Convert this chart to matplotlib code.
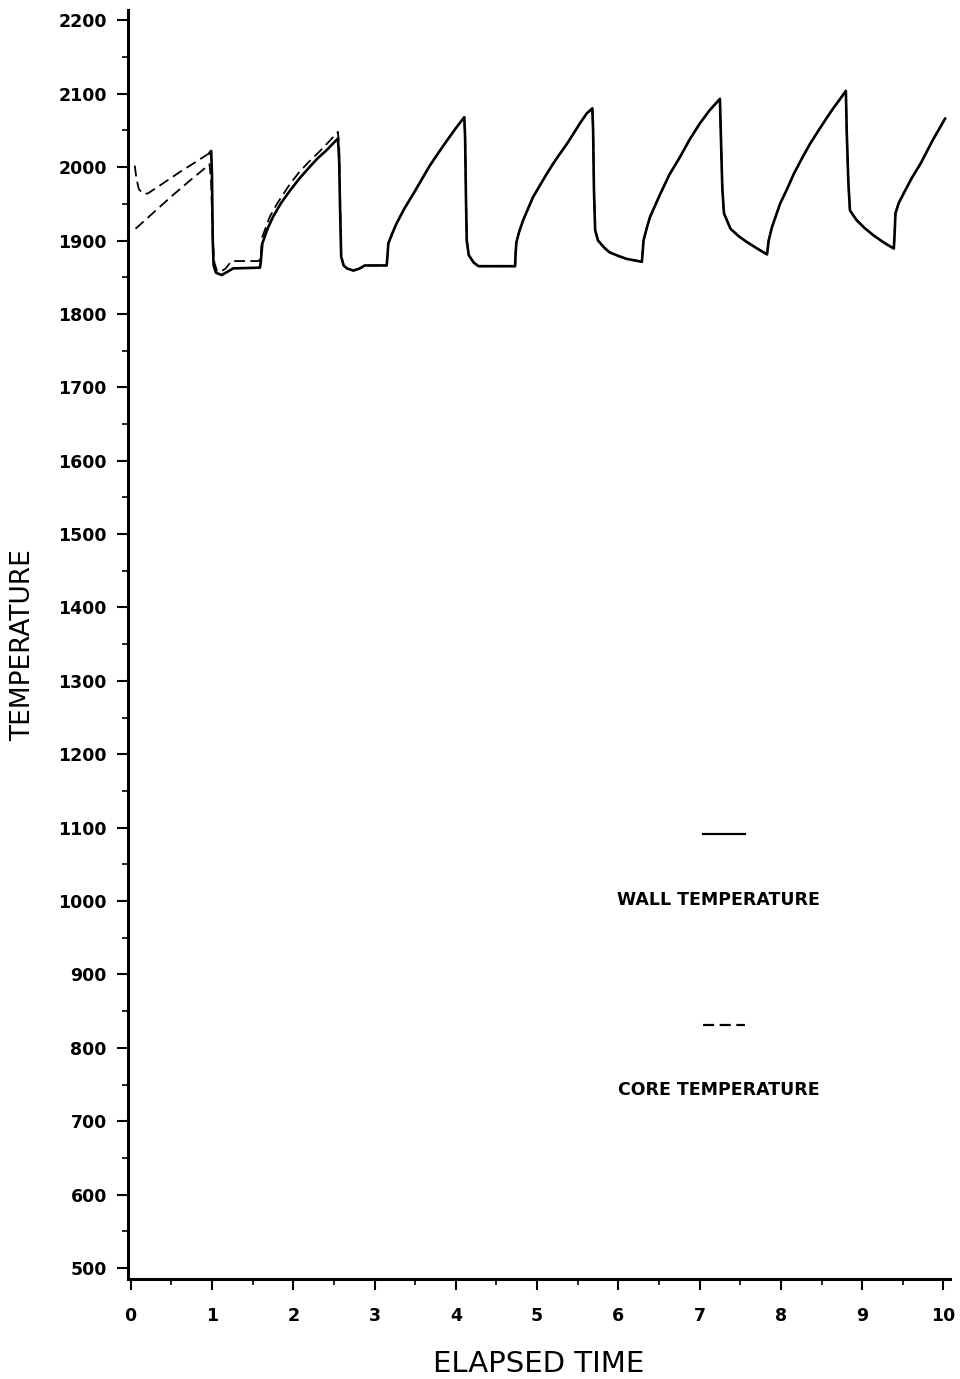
import numpy as np
import matplotlib
matplotlib.use("Agg")
import matplotlib.pyplot as plt
from matplotlib.ticker import MultipleLocator

# ---- data ----
wall_time = [0.05, 0.07, 0.10, 0.15, 0.21, 0.40, 0.60, 0.80, 0.94, 0.97, 0.99,
             1.00, 1.01, 1.02, 1.05, 1.12, 1.20, 1.26, 1.59, 1.60, 1.62, 1.68, 1.75,
             1.85, 1.96, 2.08, 2.20, 2.30, 2.41, 2.48, 2.55, 2.565, 2.575, 2.59, 2.62,
             2.66, 2.74, 2.82, 2.88, 3.15, 3.16, 3.17, 3.22, 3.27, 3.37, 3.48, 3.58,
             3.68, 3.79, 3.89, 4.00, 4.105,
             4.115, 4.125, 4.135, 4.16, 4.22, 4.28, 4.73, 4.735, 4.745, 4.78, 4.83,
             4.95, 5.04, 5.12, 5.20, 5.28, 5.37, 5.45, 5.53, 5.61, 5.68,
             5.69, 5.70, 5.715, 5.75, 5.82, 5.89, 6.00, 6.10, 6.29, 6.30, 6.31, 6.35,
             6.39, 6.51, 6.63, 6.76, 6.88, 7.00, 7.12, 7.25,
             7.26, 7.28, 7.30, 7.38, 7.48, 7.58, 7.71, 7.83, 7.85, 7.89, 7.99,
             8.08, 8.16, 8.26, 8.36, 8.47, 8.57, 8.65, 8.73, 8.80,
             8.81, 8.83, 8.85, 8.93, 9.03, 9.14, 9.27, 9.39, 9.40, 9.41, 9.45, 9.51,
             9.61, 9.72, 9.87, 10.02]
wall_temp = [2002, 1985, 1970, 1964, 1964, 1978, 1993, 2007, 2017, 2019, 2022,
             1990, 1900, 1866, 1856, 1853, 1858, 1862, 1863, 1870, 1896, 1915, 1932,
             1951, 1968, 1985, 2000, 2012, 2023, 2031, 2039, 2010, 1950, 1878, 1866,
             1862, 1859, 1862, 1866, 1866, 1880, 1896, 1910, 1923, 1944, 1964, 1983,
             2002, 2020, 2036, 2053, 2068,
             2040, 1960, 1900, 1880, 1870, 1865, 1865, 1880, 1897, 1912, 1928,
             1959, 1976, 1991, 2005, 2018, 2032, 2046, 2060, 2073, 2080,
             2050, 1970, 1914, 1900, 1891, 1884, 1879, 1875, 1871, 1885, 1900, 1917,
             1932, 1962, 1990, 2014, 2038, 2059, 2077, 2093,
             2050, 1970, 1937, 1916, 1906, 1898, 1889, 1881, 1900, 1918, 1950,
             1971, 1991, 2012, 2032, 2051, 2068, 2081, 2093, 2104,
             2050, 1980, 1941, 1928, 1917, 1907, 1897, 1889, 1910, 1937, 1951, 1964,
             1985, 2005, 2037, 2066]

core_early_time = [0.06, 0.30, 0.50, 0.70, 0.94, 0.97, 0.99, 1.01, 1.03, 1.06,
                   1.10, 1.17, 1.24, 1.58, 1.60, 1.62, 1.71, 1.80, 1.96, 2.08,
                   2.20, 2.33, 2.45, 2.55, 2.565, 2.59]
core_early_temp = [1916, 1940, 1960, 1979, 2001, 2004, 1980, 1900, 1870, 1859,
                   1857, 1862, 1872, 1872, 1880, 1905, 1932, 1950, 1977, 1994,
                   2008, 2022, 2036, 2048, 2030, 1880]

y_ticks = list(range(500, 2201, 100))
x_ticks = list(range(0, 11))

wall_t = np.array(wall_time)
wall_v = np.array(wall_temp)
late = wall_t >= 2.62
core_t = np.concatenate([core_early_time, wall_t[late]])
core_v = np.concatenate([core_early_temp, wall_v[late]])

fig = plt.figure(figsize=(9.6, 13.79), dpi=100)
ax = fig.add_axes([0.133, 0.0725, 0.857, 0.92])

lw = 1.9
first = wall_t <= 0.97
rest = wall_t >= 0.97
ax.plot(wall_t[first], wall_v[first], color="black", lw=1.3, dashes=(6, 3))
ax.plot(wall_t[rest], wall_v[rest], color="black", lw=lw)
ax.plot(core_t, core_v, color="black", lw=1.3, dashes=(6, 3))

ax.set_xlim(-0.037, 10.086)
ax.set_ylim(485, 2213.6)

ax.set_yticks(y_ticks)
ax.set_xticks(x_ticks)
ax.yaxis.set_minor_locator(MultipleLocator(50))
ax.xaxis.set_minor_locator(MultipleLocator(0.5))
ax.tick_params(axis="both", which="major", direction="out", length=8, width=1.5,
               labelsize=12.5)
ax.tick_params(axis="both", which="minor", direction="out", length=4, width=1.2)
ax.tick_params(axis="y", pad=7)
ax.tick_params(axis="x", pad=12)
for lab in ax.get_xticklabels() + ax.get_yticklabels():
    lab.set_fontweight("bold")

for s in ["top", "right"]:
    ax.spines[s].set_visible(False)
for s in ["left", "bottom"]:
    ax.spines[s].set_linewidth(2.2)

ax.set_xlabel("ELAPSED TIME", fontsize=21, labelpad=18)
ax.set_ylabel("TEMPERATURE", fontsize=19, labelpad=16)

# legend drawn as in the reference: line sample above text
ax.plot([0.732, 0.776], [0.395, 0.395], transform=fig.transFigure, color="black",
        lw=1.6)
ax.plot([0.732, 0.776], [0.257, 0.257], transform=fig.transFigure, color="black",
        lw=1.6, dashes=(5, 2.5))
fig.text(0.748, 0.347, "WALL TEMPERATURE", ha="center", va="center",
         fontsize=12.5, fontweight="bold")
fig.text(0.749, 0.2095, "CORE TEMPERATURE", ha="center", va="center",
         fontsize=12.5, fontweight="bold")

fig.savefig("out.png", dpi=100)
